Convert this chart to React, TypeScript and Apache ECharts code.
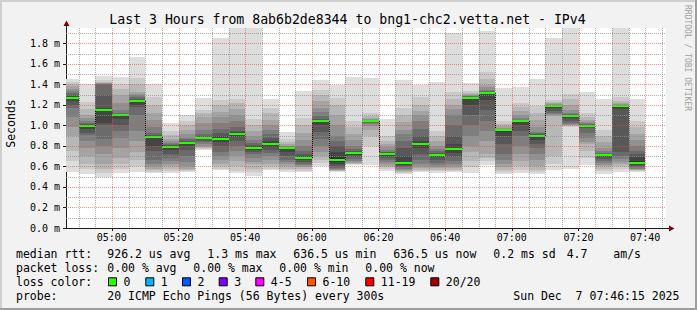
import React, { useEffect, useRef } from 'react';
import * as echarts from 'echarts';

// ---- data (milliseconds) ----
const slotStart = [
  '04:45', '04:50', '04:55', '05:00', '05:05', '05:10', '05:15', '05:20', '05:25', '05:30',
  '05:35', '05:40', '05:45', '05:50', '05:55', '06:00', '06:05', '06:10', '06:15', '06:20',
  '06:25', '06:30', '06:35', '06:40', '06:45', '06:50', '06:55', '07:00', '07:05', '07:10',
  '07:15', '07:20', '07:25', '07:30', '07:35',
];
const stepMinutes = 5;

const medianRtt = [
  1.270, 0.998, 1.150, 1.102, 1.238, 0.887, 0.789, 0.829, 0.877, 0.867,
  0.919, 0.780, 0.822, 0.780, 0.682, 1.043, 0.666, 0.734, 1.043, 0.724,
  0.637, 0.822, 0.715, 0.770, 1.270, 1.316, 0.958, 1.043, 0.900, 1.193,
  1.095, 0.998, 0.712, 1.193, 0.637,
];

// 20 sorted ping round-trip times per 5-minute step
const pings: number[][] = [
  [0.545, 0.65, 0.75, 0.90, 0.98, 1.08, 1.17, 1.20, 1.24, 1.265, 1.275, 1.285, 1.30, 1.32, 1.34, 1.36, 1.38, 1.40, 1.42, 1.453],
  [0.525, 0.58, 0.62, 0.70, 0.78, 0.85, 0.905, 0.93, 0.97, 0.995, 1.0, 1.005, 1.01, 1.02, 1.04, 1.07, 1.10, 1.16, 1.23, 1.40],
  [0.50, 0.54, 0.58, 0.62, 0.72, 0.80, 0.87, 1.0, 1.02, 1.145, 1.155, 1.17, 1.30, 1.40, 1.405, 1.41, 1.415, 1.42, 1.44, 1.485],
  [0.533, 0.58, 0.62, 0.68, 0.78, 0.88, 0.95, 1.0, 1.06, 1.10, 1.104, 1.108, 1.115, 1.125, 1.15, 1.22, 1.30, 1.36, 1.40, 1.475],
  [0.549, 0.60, 0.66, 0.74, 0.85, 0.95, 1.10, 1.18, 1.20, 1.235, 1.24, 1.245, 1.26, 1.28, 1.30, 1.31, 1.33, 1.40, 1.46, 1.67],
  [0.533, 0.55, 0.565, 0.58, 0.60, 0.62, 0.66, 0.75, 0.80, 0.885, 0.89, 0.895, 0.91, 0.93, 0.98, 1.05, 1.12, 1.20, 1.28, 1.40],
  [0.533, 0.555, 0.58, 0.60, 0.62, 0.65, 0.68, 0.72, 0.76, 0.785, 0.795, 0.80, 0.81, 0.82, 0.83, 0.85, 0.87, 0.91, 0.95, 1.02],
  [0.549, 0.555, 0.565, 0.575, 0.60, 0.64, 0.70, 0.76, 0.80, 0.826, 0.832, 0.84, 0.85, 0.865, 0.88, 0.92, 0.96, 1.00, 1.04, 1.105],
  [0.76, 0.77, 0.78, 0.79, 0.80, 0.82, 0.84, 0.85, 0.865, 0.874, 0.88, 0.89, 0.90, 0.92, 0.96, 1.02, 1.08, 1.12, 1.15, 1.27],
  [0.565, 0.58, 0.60, 0.62, 0.66, 0.70, 0.74, 0.80, 0.84, 0.86, 0.875, 0.90, 0.93, 0.97, 1.02, 1.08, 1.13, 1.20, 1.25, 1.85],
  [0.533, 0.56, 0.60, 0.65, 0.70, 0.75, 0.80, 0.85, 0.89, 0.915, 0.925, 0.935, 0.95, 0.98, 1.04, 1.10, 1.16, 1.22, 1.26, 1.95],
  [0.51, 0.55, 0.58, 0.62, 0.64, 0.68, 0.72, 0.745, 0.76, 0.775, 0.785, 0.795, 0.81, 0.83, 0.86, 0.90, 0.95, 1.00, 1.06, 1.95],
  [0.565, 0.58, 0.60, 0.62, 0.66, 0.70, 0.73, 0.76, 0.79, 0.815, 0.83, 0.85, 0.88, 0.92, 0.96, 1.0, 1.05, 1.12, 1.17, 1.258],
  [0.549, 0.565, 0.58, 0.60, 0.62, 0.645, 0.66, 0.70, 0.74, 0.778, 0.782, 0.784, 0.787, 0.79, 0.795, 0.80, 0.82, 0.84, 0.87, 0.939],
  [0.543, 0.56, 0.575, 0.59, 0.60, 0.61, 0.62, 0.64, 0.66, 0.675, 0.69, 0.70, 0.72, 0.75, 0.80, 0.86, 0.93, 1.00, 1.07, 1.336],
  [0.60, 0.63, 0.66, 0.70, 0.74, 0.80, 0.87, 0.94, 1.00, 1.04, 1.047, 1.055, 1.065, 1.09, 1.13, 1.17, 1.24, 1.30, 1.35, 1.443],
  [0.549, 0.553, 0.558, 0.563, 0.568, 0.575, 0.585, 0.60, 0.62, 0.645, 0.69, 0.74, 0.80, 0.85, 0.90, 1.00, 1.10, 1.20, 1.27, 1.39],
  [0.614, 0.62, 0.628, 0.635, 0.645, 0.655, 0.67, 0.69, 0.71, 0.73, 0.738, 0.745, 0.755, 0.77, 0.80, 0.86, 0.92, 0.98, 1.04, 1.47],
  [0.614, 0.80, 0.90, 0.96, 0.99, 1.01, 1.02, 1.03, 1.035, 1.042, 1.044, 1.046, 1.048, 1.05, 1.055, 1.06, 1.07, 1.09, 1.12, 1.459],
  [0.56, 0.575, 0.59, 0.605, 0.62, 0.64, 0.66, 0.68, 0.70, 0.72, 0.727, 0.732, 0.737, 0.745, 0.76, 0.79, 0.82, 0.85, 0.90, 1.059],
  [0.53, 0.54, 0.55, 0.56, 0.57, 0.58, 0.59, 0.60, 0.615, 0.63, 0.645, 0.70, 0.78, 0.85, 0.92, 0.96, 1.03, 1.10, 1.17, 1.443],
  [0.549, 0.56, 0.57, 0.585, 0.60, 0.62, 0.66, 0.72, 0.78, 0.815, 0.83, 0.85, 0.90, 0.97, 1.04, 1.10, 1.14, 1.20, 1.28, 1.394],
  [0.54, 0.555, 0.57, 0.585, 0.595, 0.61, 0.63, 0.66, 0.69, 0.71, 0.72, 0.725, 0.735, 0.75, 0.77, 0.80, 0.85, 0.90, 0.95, 1.426],
  [0.549, 0.56, 0.57, 0.585, 0.60, 0.62, 0.65, 0.69, 0.73, 0.76, 0.78, 0.82, 0.90, 1.00, 1.10, 1.16, 1.20, 1.26, 1.33, 1.898],
  [0.535, 0.59, 0.65, 0.74, 0.80, 0.90, 1.00, 1.10, 1.20, 1.268, 1.272, 1.275, 1.28, 1.285, 1.29, 1.295, 1.305, 1.32, 1.34, 1.41],
  [0.614, 0.65, 0.68, 0.72, 0.85, 0.95, 1.04, 1.15, 1.25, 1.314, 1.318, 1.32, 1.325, 1.335, 1.35, 1.37, 1.39, 1.45, 1.52, 1.924],
  [0.53, 0.55, 0.57, 0.59, 0.62, 0.66, 0.72, 0.82, 0.90, 0.957, 0.959, 0.96, 0.962, 0.964, 0.968, 0.975, 0.99, 1.01, 1.04, 1.361],
  [0.54, 0.57, 0.60, 0.65, 0.72, 0.80, 0.90, 0.95, 1.00, 1.04, 1.045, 1.047, 1.05, 1.055, 1.07, 1.10, 1.14, 1.18, 1.22, 1.378],
  [0.53, 0.55, 0.57, 0.60, 0.66, 0.72, 0.78, 0.82, 0.86, 0.897, 0.903, 0.908, 0.915, 0.925, 0.94, 0.98, 1.05, 1.12, 1.19, 1.452],
  [0.565, 0.62, 0.70, 1.09, 1.10, 1.11, 1.12, 1.14, 1.17, 1.192, 1.194, 1.195, 1.196, 1.198, 1.20, 1.205, 1.215, 1.23, 1.25, 1.856],
  [0.58, 0.98, 0.99, 1.0, 1.005, 1.01, 1.02, 1.04, 1.07, 1.093, 1.097, 1.10, 1.105, 1.11, 1.12, 1.15, 1.20, 1.26, 1.31, 1.95],
  [0.614, 0.68, 0.75, 0.82, 0.84, 0.88, 0.93, 0.975, 0.985, 0.996, 1.0, 1.002, 1.005, 1.01, 1.02, 1.03, 1.05, 1.08, 1.12, 1.329],
  [0.53, 0.555, 0.58, 0.60, 0.615, 0.63, 0.65, 0.67, 0.69, 0.71, 0.715, 0.718, 0.725, 0.735, 0.75, 0.78, 0.84, 0.90, 0.96, 1.255],
  [0.549, 0.575, 0.60, 0.62, 0.64, 0.67, 0.70, 0.74, 1.16, 1.19, 1.195, 1.196, 1.198, 1.20, 1.203, 1.21, 1.22, 1.24, 1.28, 1.95],
  [0.549, 0.556, 0.565, 0.57, 0.575, 0.58, 0.59, 0.60, 0.615, 0.63, 0.65, 0.69, 0.72, 0.75, 0.80, 0.86, 0.92, 0.98, 1.04, 1.255],
];

const xTickLabels = ['05:00', '05:20', '05:40', '06:00', '06:20', '06:40', '07:00', '07:20', '07:40'];
const yTickValues = [0, 0.2, 0.4, 0.6, 0.8, 1.0, 1.2, 1.4, 1.6, 1.8];
const yMinorGrid = [0.1, 0.3, 0.5, 0.7, 0.9, 1.1, 1.3, 1.5, 1.7, 1.9];

const titleText = 'Last 3 Hours from 8ab6b2de8344 to bng1-chc2.vetta.net - IPv4';
const rttLabels = ['926.2 us avg', '1.3 ms max', '636.5 us min', '636.5 us now', '0.2 ms sd', '4.7', 'am/s'];
const lossLabels = ['0.00 % avg', '0.00 % max', '0.00 % min', '0.00 % now'];
const lossColorNames = ['0', '1', '2', '3', '4-5', '6-10', '11-19', '20/20'];
const lossColors = ['#26ff00', '#00b8ff', '#0059ff', '#7e00ff', '#ff00ff', '#ff5500', '#ff0000', '#a10000'];
const probeText = '20 ICMP Echo Pings (56 Bytes) every 300s';
const dateText = 'Sun Dec  7 07:46:15 2025';

// smoke shades, outermost pair first
const shades = ['#dddddd', '#cacaca', '#b7b7b7', '#a4a4a4', '#919191', '#7e7e7e', '#6b6b6b', '#585858', '#454545', '#323232'];

const toMin = (s: string) => {
  const [h, m] = s.split(':').map(Number);
  return (h - 4) * 60 + m;
};
const fmtMin = (v: number) => {
  const t = Math.round(v) + 240;
  const h = Math.floor(t / 60);
  const m = t % 60;
  return `${String(h).padStart(2, '0')}:${String(m).padStart(2, '0')}`;
};

const X_MIN = 46.25;
const X_MAX = 226.25;
const Y_MAX = 1.95;
const MONO = '"DejaVu Sans Mono", monospace';

export default function App() {
  const ref = useRef<HTMLDivElement>(null);

  useEffect(() => {
    if (!ref.current) return;
    const chart = echarts.init(ref.current, undefined, { renderer: 'svg' });

    const slotMin = slotStart.map(toMin);
    const xMajor = xTickLabels.map(toMin);
    const xMinor: number[] = [];
    for (let t = 50; t < X_MAX; t += stepMinutes) {
      if (!xMajor.includes(t)) xMinor.push(t);
    }
    const gridLines: { dir: 'v' | 'h'; v: number; major: boolean }[] = [
      ...xMinor.map((v) => ({ dir: 'v' as const, v, major: false })),
      ...yMinorGrid.map((v) => ({ dir: 'h' as const, v, major: false })),
      ...xMajor.map((v) => ({ dir: 'v' as const, v, major: true })),
      ...yTickValues.filter((v) => v > 0).map((v) => ({ dir: 'h' as const, v, major: true })),
    ];

    const legendFont = { fontFamily: MONO, fontSize: 11.5 };
    const txt = (text: string, x: number, y: number, extra: any = {}) => ({
      type: 'text',
      x,
      y,
      silent: true,
      style: {
        text,
        x: 0,
        y: 0,
        fill: '#000',
        ...legendFont,
        align: 'left',
        textAlign: 'left',
        verticalAlign: 'middle',
        textVerticalAlign: 'middle',
        ...extra,
      },
    });

    const rttX = [107.3, 207.3, 293.3, 393.3, 493.3, 566.7, 613.3];
    const lossX = [107.3, 193.3, 279.3, 365.3];
    const boxX = [108.5, 145.8, 182.5, 219.2, 255.8, 307.5, 365.8, 430.8];
    const row = [254.3, 268.3, 282.3, 296.2];

    const graphics: any[] = [
      // 3D frame
      { type: 'rect', shape: { x: 0, y: 0, width: 697, height: 2 }, style: { fill: '#cfcfcf' }, silent: true },
      { type: 'rect', shape: { x: 0, y: 0, width: 2, height: 310 }, style: { fill: '#cfcfcf' }, silent: true },
      { type: 'rect', shape: { x: 0, y: 308, width: 697, height: 2 }, style: { fill: '#9e9e9e' }, silent: true },
      { type: 'rect', shape: { x: 695, y: 0, width: 2, height: 310 }, style: { fill: '#9e9e9e' }, silent: true },
      // axis arrows
      { type: 'line', shape: { x1: 66.5, y1: 28, x2: 66.5, y2: 23 }, style: { stroke: '#1a1a1a', lineWidth: 1 }, silent: true },
      { type: 'polygon', shape: { points: [[63.5, 26], [66.5, 20.5], [69.5, 26]] }, style: { fill: '#800000' }, silent: true },
      { type: 'line', shape: { x1: 666, y1: 228.5, x2: 671, y2: 228.5 }, style: { stroke: '#1a1a1a', lineWidth: 1 }, silent: true },
      { type: 'polygon', shape: { points: [[669, 225.5], [674.5, 228.5], [669, 231.5]] }, style: { fill: '#800000' }, silent: true },
      // title
      txt(titleText, 347.5, 19.4, { fontSize: 13.2, align: 'center', textAlign: 'center' }),
      // unit label
      { ...txt('Seconds', 10.5, 123.5, { align: 'center', textAlign: 'center' }), rotation: Math.PI / 2 },
      // watermark
      { ...txt('RRDTOOL / TOBI OETIKER', 687, 5, { fontSize: 8, fill: '#a0a0a0' }), rotation: -Math.PI / 2 },
      // legend rows
      txt('median rtt:', 16, row[0]),
      ...rttLabels.map((t, i) => txt(t, rttX[i], row[0])),
      txt('packet loss:', 16, row[1]),
      ...lossLabels.map((t, i) => txt(t, lossX[i], row[1])),
      txt('loss color:', 16, row[2]),
      ...lossColorNames.flatMap((t, i) => [
        { type: 'rect', shape: { x: boxX[i], y: row[2] - 4.5, width: 8, height: 8 }, style: { fill: lossColors[i], stroke: '#000', lineWidth: 1 }, silent: true },
        txt(t, boxX[i] + 15, row[2]),
      ]),
      txt('probe:', 16, row[3]),
      txt(probeText, 107.3, row[3]),
      txt(dateText, 513.3, row[3]),
    ];

    const option: any = {
      animation: false,
      backgroundColor: '#f2f2f2',
      textStyle: { fontFamily: MONO },
      grid: { left: 66, top: 28, width: 600, height: 200, show: true, backgroundColor: '#ffffff', borderWidth: 0 },
      xAxis: {
        type: 'value',
        min: X_MIN,
        max: X_MAX,
        splitLine: { show: false },
        axisLine: { show: true, lineStyle: { color: '#1a1a1a', width: 1 } },
        axisTick: { show: true, length: 3, customValues: xMajor, lineStyle: { color: '#1a1a1a' } },
        axisLabel: {
          customValues: xMajor,
          formatter: (v: number) => fmtMin(v),
          fontFamily: MONO,
          fontSize: 10,
          color: '#000',
          margin: 9.5,
          verticalAlign: 'middle',
          hideOverlap: false,
        },
      },
      yAxis: {
        type: 'value',
        min: 0,
        max: Y_MAX,
        splitLine: { show: false },
        axisLine: { show: true, lineStyle: { color: '#1a1a1a', width: 1 } },
        axisTick: { show: true, length: 3, customValues: yTickValues, lineStyle: { color: '#1a1a1a' } },
        axisLabel: {
          customValues: yTickValues,
          formatter: (v: number) => `${v.toFixed(1)} m`,
          fontFamily: MONO,
          fontSize: 10,
          color: '#000',
          margin: 6,
          verticalAlign: 'middle',
        },
      },
      graphic: graphics,
      series: [
        {
          type: 'custom',
          name: 'smoke',
          z: 2,
          silent: true,
          data: slotMin.map((s, i) => [s, medianRtt[i], s + stepMinutes]),
          renderItem: (params: any, api: any) => {
            const i = params.dataIndex;
            const cs = params.coordSys;
            const t0 = api.value(0);
            const t1 = api.value(2);
            let x0 = Math.round(api.coord([t0, 0])[0]);
            let x1 = Math.round(api.coord([t1, 0])[0]);
            x0 = Math.max(x0, Math.round(cs.x));
            x1 = Math.min(x1, Math.round(cs.x + cs.width));
            if (x1 <= x0) return null;
            const p = pings[i];
            const children: any[] = [];
            for (let k = 0; k < 10; k++) {
              const yTop = Math.round(api.coord([t0, Math.min(p[19 - k], Y_MAX)])[1]);
              const yBot = Math.round(api.coord([t0, p[k]])[1]);
              children.push({
                type: 'rect',
                shape: { x: x0, y: yTop, width: x1 - x0, height: yBot - yTop },
                style: { fill: shades[k] },
              });
            }
            const ym = Math.round(api.coord([t0, medianRtt[i]])[1]);
            if (i > 0) {
              const yp = Math.round(api.coord([t0, medianRtt[i - 1]])[1]);
              children.push({
                type: 'line',
                shape: { x1: x0 + 0.5, y1: yp, x2: x0 + 0.5, y2: ym },
                style: { stroke: '#101010', lineWidth: 1, lineDash: [1, 1] },
              });
            }
            children.push({
              type: 'rect',
              shape: { x: x0, y: ym - 1, width: x1 - x0, height: 2 },
              style: { fill: lossColors[0] },
            });
            return { type: 'group', children };
          },
        },
        {
          type: 'custom',
          name: 'grid',
          z: 3,
          silent: true,
          data: gridLines.map((g) => (g.dir === 'v' ? [g.v, 0] : [X_MIN, g.v])),
          renderItem: (params: any, api: any) => {
            const g = gridLines[params.dataIndex];
            const cs = params.coordSys;
            const stroke = g.major ? 'rgba(222,79,79,0.6)' : 'rgba(143,143,143,0.75)';
            if (g.dir === 'v') {
              const x = Math.round(api.coord([g.v, 0])[0]) + 0.5;
              return {
                type: 'line',
                shape: { x1: x, y1: cs.y, x2: x, y2: cs.y + cs.height },
                style: { stroke, lineWidth: 1, lineDash: [1, 1] },
              };
            }
            const y = Math.round(api.coord([X_MIN, g.v])[1]) + 0.5;
            return {
              type: 'line',
              shape: { x1: cs.x, y1: y, x2: cs.x + cs.width, y2: y },
              style: { stroke, lineWidth: 1, lineDash: [1, 1] },
            };
          },
        },
      ],
    };

    chart.setOption(option);
    return () => chart.dispose();
  }, []);

  return (
    <div
      ref={ref}
      style={{ position: 'fixed', left: 0, top: 0, width: 697, height: 310 }}
    />
  );
}
